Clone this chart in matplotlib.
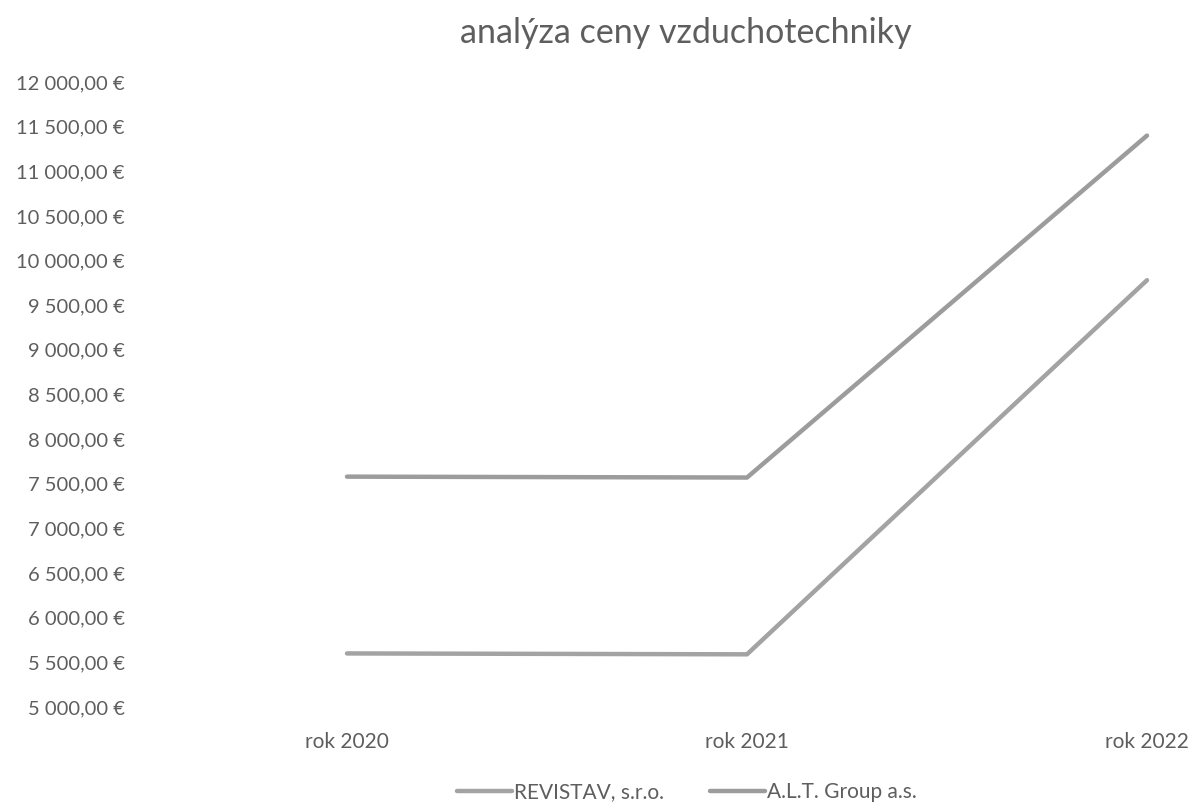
import matplotlib.pyplot as plt
from matplotlib.ticker import FuncFormatter

plt.rcParams["font.family"] = ["Lato", "DejaVu Sans"]

# data
years = ["rok 2020", "rok 2021", "rok 2022"]
revistav = [5600, 5590, 9780]
alt_group = [7580, 7570, 11400]

text_grey = "#5e5e5e"


def euro(v, pos):
    s = f"{v:,.2f}".replace(",", " ").replace(".", ",")
    return s + " €"


fig = plt.figure(figsize=(11.95, 8.09), dpi=100)
ax = fig.add_axes([147 / 1195, 102 / 809, 1048 / 1195, 625 / 809])

x = range(len(years))
ax.plot(x, revistav, color="#a3a3a3", lw=3.2, solid_capstyle="round", label="REVISTAV, s.r.o.")
ax.plot(x, alt_group, color="#9c9c9c", lw=3.2, solid_capstyle="round", label="A.L.T. Group a.s.")

ax.set_xlim(-0.5, 2.12)
ax.set_ylim(5000, 12000)
ax.set_yticks(range(5000, 12001, 500))
ax.yaxis.set_major_formatter(FuncFormatter(euro))
ax.set_xticks(list(x))
ax.set_xticklabels(years)

for s in ax.spines.values():
    s.set_visible(False)
ax.tick_params(axis="both", length=0, labelsize=14.5, colors=text_grey)
ax.tick_params(axis="y", pad=16)
ax.tick_params(axis="x", pad=18, labelsize=15)

fig.text(0.5735, 0.959, "analýza ceny vzduchotechniky", ha="center", va="center",
         fontsize=24.5, color=text_grey)

fig.legend(loc="center", bbox_to_anchor=(0.575, 0.021), ncol=2, frameon=False,
           fontsize=15, labelcolor=text_grey, handlelength=2.65, handletextpad=0.1,
           columnspacing=2.2)

plt.savefig("out.png", dpi=100)
